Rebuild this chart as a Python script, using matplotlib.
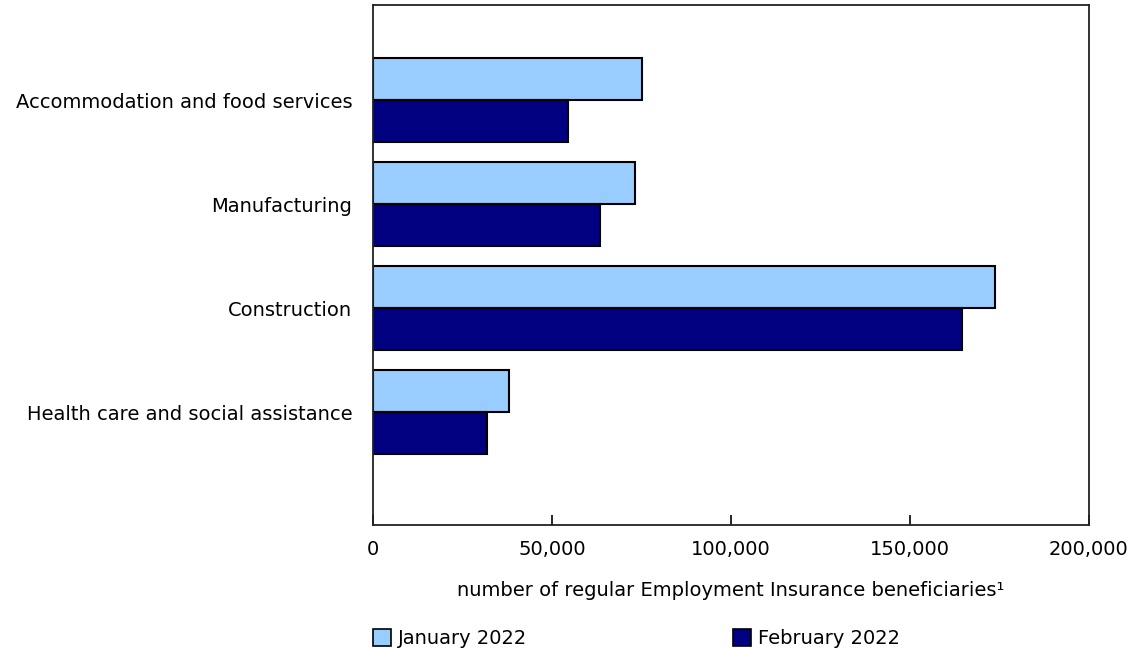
import matplotlib
matplotlib.use("Agg")
import matplotlib.pyplot as plt
from matplotlib.patches import Patch
from matplotlib.ticker import FuncFormatter

industries = ["Accommodation and food services", "Manufacturing", "Construction",
              "Health care and social assistance"]
jan_2022 = [75100, 73200, 173700, 38000]
feb_2022 = [54500, 63400, 164500, 31800]
series_names = ["January 2022", "February 2022"]
x_ticks = [0, 50000, 100000, 150000, 200000]

light_blue = "#99CCFF"
navy = "#000080"
fs = 14

plt.rcParams["font.family"] = ["DejaVu Sans"]

fig = plt.figure(figsize=(11.32, 6.49), dpi=100)
ax = fig.add_axes([373 / 1132, 1 - 525 / 649, 716 / 1132, 520 / 649])

h = 42 / 104
pos = list(range(len(industries)))
ax.barh([p - h / 2 for p in pos], jan_2022, height=h, color=light_blue,
        edgecolor="black", linewidth=1.5)
ax.barh([p + h / 2 for p in pos], feb_2022, height=h, color=navy,
        edgecolor="black", linewidth=1.5)

ax.set_ylim(3 + 113 / 104, -95 / 104)
ax.set_xlim(0, 200000)
ax.set_yticks(pos)
ax.set_yticklabels(industries, fontsize=fs)
ax.tick_params(axis="y", length=0, pad=15)
ax.set_xticks(x_ticks)
ax.xaxis.set_major_formatter(FuncFormatter(lambda v, p: f"{int(v):,}"))
ax.tick_params(axis="x", direction="in", length=7, width=1.2, labelsize=fs, pad=11)

for s in ax.spines.values():
    s.set_linewidth(1.3)
    s.set_color("#222222")

ax.set_xlabel("number of regular Employment Insurance beneficiaries\u00b9", fontsize=fs,
              labelpad=16)

handles = [Patch(facecolor=light_blue, edgecolor="black", linewidth=1.2),
           Patch(facecolor=navy, edgecolor="black", linewidth=1.2)]
fig.legend(handles, series_names, loc="lower left", bbox_to_anchor=(369 / 1132, -3 / 649),
           ncol=2, frameon=False, fontsize=fs, handlelength=0.95, handleheight=0.95,
           handletextpad=0.35, columnspacing=10.55, borderaxespad=0, borderpad=0.2)

fig.savefig("out.png", dpi=100)
